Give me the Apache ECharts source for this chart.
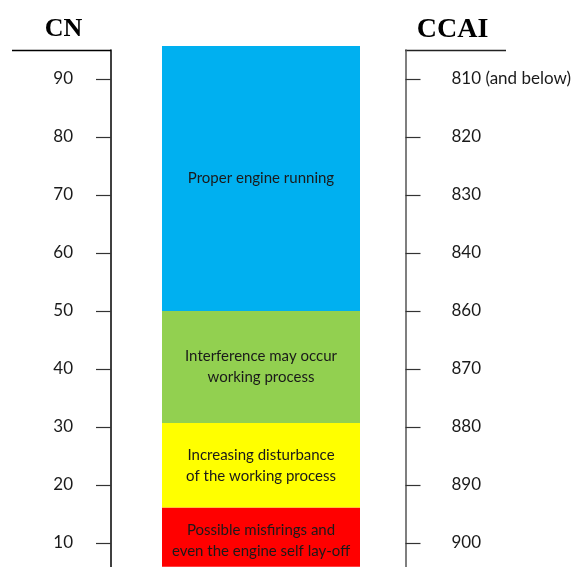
<!DOCTYPE html>
<html>
<head>
<meta charset="utf-8">
<script src="https://cdn.jsdelivr.net/npm/echarts@6/dist/echarts.min.js"></script>
<style>
html,body{margin:0;padding:0;background:#fff;}
#chart{width:581px;height:567px;}
</style>
</head>
<body>
<div id="chart"></div>
<script>
// Data
const cnTicks = [10, 20, 30, 40, 50, 60, 70, 80, 90];
const ccaiLabels = ['900', '890', '880', '870', '860', '840', '830', '820', '810 (and below)'];
const bandNames = [
  'Possible misfirings and\neven the engine self lay-off',
  'Increasing disturbance\nof the working process',
  'Interference may occur\nworking process',
  'Proper engine running'
];
const bandFrom = [5.9, 16.1, 30.7, 50];
const bandTo = [16.1, 30.7, 50, 95.7];
const bandColors = ['#ff0000', '#ffff00', '#92d050', '#00b0f0'];
const category = ['CN'];

const chart = echarts.init(document.getElementById('chart'), null, {renderer: 'canvas'});

const labelFont = 'Lato, "Open Sans", sans-serif';

const series = [{
  type: 'bar',
  stack: 'bands',
  xAxisIndex: 0,
  yAxisIndex: 0,
  data: [bandFrom[0]],
  barWidth: 198,
  itemStyle: {color: 'rgba(0,0,0,0)'},
  silent: true,
  clip: false
}];
bandNames.forEach((name, i) => {
  series.push({
    type: 'bar',
    stack: 'bands',
    xAxisIndex: 0,
    yAxisIndex: 0,
    data: [+(bandTo[i] - bandFrom[i]).toFixed(2)],
    barWidth: 198,
    clip: false,
    itemStyle: {color: bandColors[i]},
    label: {
      show: true,
      position: 'inside',
      offset: i === 0 ? [0, 3] : [0, 0],
      formatter: name,
      color: '#1a1a1a',
      fontSize: 15,
      lineHeight: 21,
      fontFamily: labelFont
    }
  });
});

const axisCommon = {
  type: 'value',
  min: 0,
  max: 95,
  interval: 10,
  splitLine: {show: false},
  axisTick: {show: true, length: 15, lineStyle: {color: '#333', width: 1.2}},
};

chart.setOption({
  animation: false,
  grid: [
    {left: 111, width: 300, top: 50, height: 551, outerBoundsMode: 'none', containLabel: false},
    {left: 111, width: 294.5, top: 50, height: 551, outerBoundsMode: 'none', containLabel: false}
  ],
  xAxis: [
    {gridIndex: 0, type: 'category', data: category, show: false},
    {gridIndex: 1, type: 'category', data: category, show: false}
  ],
  yAxis: [
    Object.assign({}, axisCommon, {
      gridIndex: 0,
      position: 'left',
      axisLine: {show: true, lineStyle: {color: '#000', width: 1.5}},
      axisLabel: {
        margin: 38,
        fontSize: 17,
        color: '#1a1a1a',
        fontFamily: labelFont,
        padding: [4, 0, 0, 0],
        showMaxLabel: false,
        showMinLabel: false,
        formatter: v => cnTicks.indexOf(v) >= 0 ? String(v) : ''
      }
    }),
    Object.assign({}, axisCommon, {
      gridIndex: 1,
      position: 'right',
      axisLine: {show: true, lineStyle: {color: '#555', width: 1.5}},
      axisLabel: {
        margin: 46,
        fontSize: 17,
        color: '#1a1a1a',
        fontFamily: labelFont,
        padding: [4, 0, 0, 0],
        showMaxLabel: false,
        showMinLabel: false,
        formatter: v => { const i = cnTicks.indexOf(v); return i >= 0 ? ccaiLabels[i] : ''; }
      }
    })
  ],
  graphic: [
    {type: 'line', shape: {x1: 12, y1: 50.5, x2: 111, y2: 50.5}, style: {stroke: '#000', lineWidth: 1.5}},
    {type: 'line', shape: {x1: 405, y1: 50.5, x2: 506, y2: 50.5}, style: {stroke: '#222', lineWidth: 1.5}},
    {type: 'text', x: 63.5, y: 29.5, style: {text: 'CN', font: 'bold 26px "Liberation Serif", "DejaVu Serif", serif', fill: '#000', textAlign: 'center', textVerticalAlign: 'middle'}},
    {type: 'text', x: 452.5, y: 29.5, style: {text: 'CCAI', font: 'bold 28px "Liberation Serif", "DejaVu Serif", serif', fill: '#000', textAlign: 'center', textVerticalAlign: 'middle'}}
  ],
  series: series
});
</script>
</body>
</html>
